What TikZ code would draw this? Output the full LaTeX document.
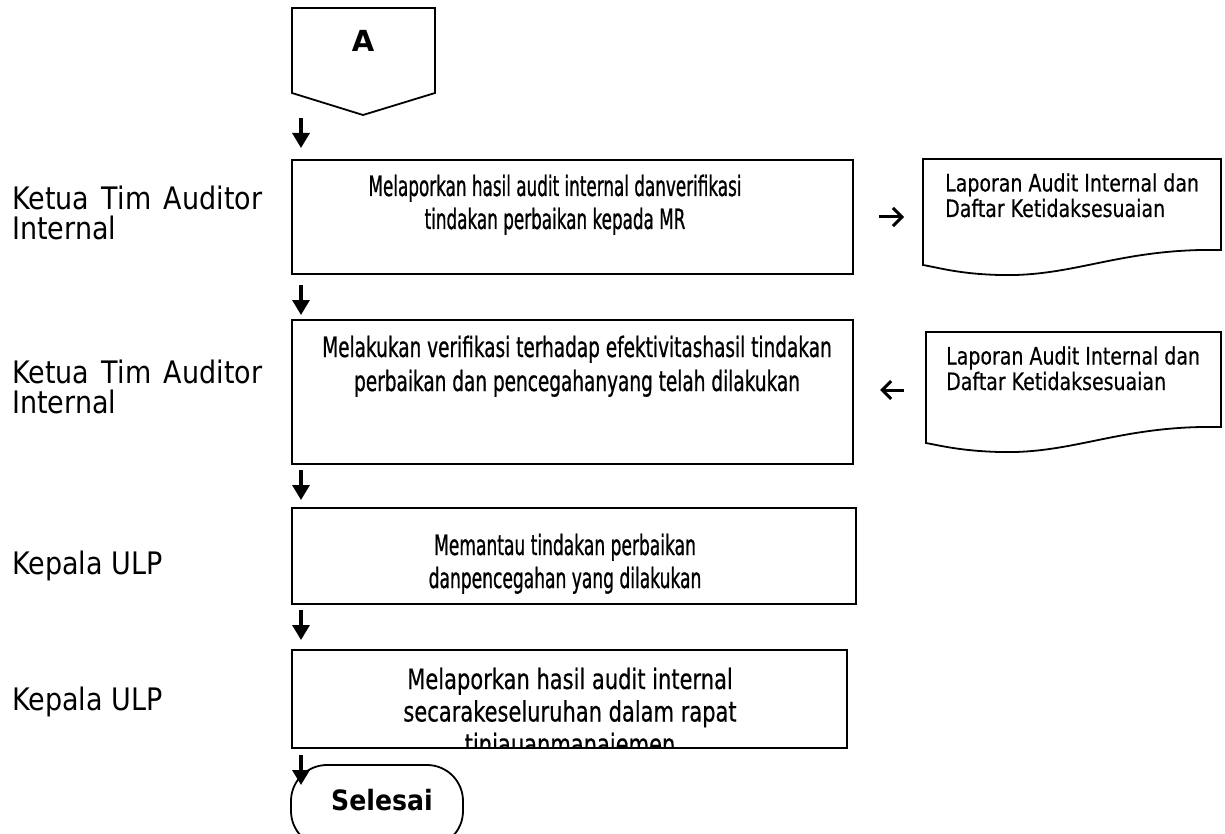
\documentclass[tikz,border=0pt]{standalone}
\usepackage{fontspec}
\setmainfont{DejaVu Sans}
\newfontfamily\boxfontA[FakeStretch=0.60,FakeBold=0.8]{DejaVu Sans}
\newfontfamily\boxfontB[FakeStretch=0.66,FakeBold=0.7]{DejaVu Sans}
\newfontfamily\boxfontC[FakeStretch=0.61,FakeBold=0.8]{DejaVu Sans}
\newfontfamily\boxfontD[FakeStretch=0.75,FakeBold=0.5]{DejaVu Sans}
\newfontfamily\docfont[FakeStretch=0.79,FakeBold=0.4]{DejaVu Sans}
\newfontfamily\lblfont[FakeStretch=0.87]{DejaVu Sans}
\newfontfamily\boldfont[FakeStretch=0.9]{DejaVu Sans}
\usetikzlibrary{arrows.meta}
\begin{document}
\begin{tikzpicture}[x=1pt,y=-1pt,
  pbox/.style={draw,line width=1.8pt,inner sep=0pt,rectangle},
  boxtext/.style={align=center,inner sep=0pt,anchor=base},
  doctext/.style={align=left,font=\docfont\fontsize{24}{25.5}\selectfont,inner sep=0pt,anchor=base west},
  lbl/.style={align=left,font=\lblfont\fontsize{31}{30}\selectfont,inner sep=0pt,anchor=base west},
  shp/.style={draw,line width=1.8pt,line join=miter},
  darr/.style={line width=3.2pt,-{Triangle[width=17pt,length=15pt]}},
  harr/.style={line width=3pt,-{Straight Barb[width=18pt,length=9pt,line width=3pt]}}]
\useasboundingbox (0,0) rectangle (1225,834);

% off-page connector
\draw[shp] (292,8) -- (435,8) -- (435,93) -- (363,115) -- (292,93) -- cycle;
\node[font=\bfseries\fontsize{29}{30}\selectfont,inner sep=0pt] (A) at (363,41) {A};

% process boxes
\node[pbox,minimum width=561pt,minimum height=114pt] (b1) at (572.5,217) {};
\node[pbox,minimum width=561pt,minimum height=144pt] (b2) at (572.5,392) {};
\node[pbox,minimum width=564pt,minimum height=96pt] (b3) at (574,556) {};
\node[pbox,minimum width=555pt,minimum height=98pt] (b4) at (569.5,699) {};

\node[boxtext,font=\boxfontA\fontsize{28}{33}\selectfont] (t1) at (555,229) {Melaporkan hasil audit internal danverifikasi\\tindakan perbaikan kepada MR};
\node[boxtext,font=\boxfontB\fontsize{28}{34}\selectfont] (t2) at (577,391) {Melakukan verifikasi terhadap efektivitashasil tindakan\\perbaikan dan pencegahanyang telah dilakukan};
\node[boxtext,font=\boxfontC\fontsize{28}{33}\selectfont] (t3) at (565,588) {Memantau tindakan perbaikan\\danpencegahan yang dilakukan};
\begin{scope}
  \clip (b4.north west) rectangle (b4.south east);
  \node[boxtext,font=\boxfontD\fontsize{28}{32.5}\selectfont] (t4) at (570,754) {Melaporkan hasil audit internal\\secarakeseluruhan dalam rapat\\tinjauanmanajemen};
\end{scope}

% documents
\draw[shp] (923,159) -- (1221,159) -- (1221,250)
  .. controls (1120,248) and (1075,277) .. (1000,275)
  .. controls (960,274) and (940,268) .. (923,265) -- cycle;
\node[doctext] (d1) at (945,217) {Laporan Audit Internal dan\\Daftar Ketidaksesuaian};
\draw[shp] (926,332) -- (1221,332) -- (1221,427)
  .. controls (1120,425) and (1075,454) .. (1000,452)
  .. controls (962,451) and (942,446) .. (926,443) -- cycle;
\node[doctext] (d2) at (946,390) {Laporan Audit Internal dan\\Daftar Ketidaksesuaian};

% terminator
\node[draw,line width=1.8pt,rounded corners=36pt,minimum width=172pt,minimum height=82pt,inner sep=0pt] (end) at (377,806) {};
\node[font=\boldfont\bfseries\fontsize{28}{30}\selectfont,inner sep=0pt] (endt) at (382,800) {Selesai};

% labels
\node[lbl] (l1) at (12,240) {\makebox[250pt][s]{Ketua Tim Auditor}\\Internal};
\node[lbl] (l2) at (12,413) {\makebox[250pt][s]{Ketua Tim Auditor}\\Internal};
\node[lbl] (l3) at (12,574) {Kepala ULP};
\node[lbl] (l4) at (12,710) {Kepala ULP};

% arrow end points
\coordinate (a1s) at (301,118); \coordinate (a1e) at (301,148);
\coordinate (a2s) at (301,285); \coordinate (a2e) at (301,315);
\coordinate (a3s) at (301,470); \coordinate (a3e) at (301,500);
\coordinate (a4s) at (301,610); \coordinate (a4e) at (301,640);
\coordinate (a5s) at (301,755); \coordinate (a5e) at (301,785);
\coordinate (h1s) at (879,217); \coordinate (h1e) at (904,217);
\coordinate (h2s) at (904,390); \coordinate (h2e) at (880,390);

\draw[darr] (a1s) -- (a1e);
\draw[darr] (a2s) -- (a2e);
\draw[darr] (a3s) -- (a3e);
\draw[darr] (a4s) -- (a4e);
\draw[darr] (a5s) -- (a5e);
\draw[harr] (h1s) -- (h1e);
\draw[harr] (h2s) -- (h2e);
\end{tikzpicture}
\end{document}
